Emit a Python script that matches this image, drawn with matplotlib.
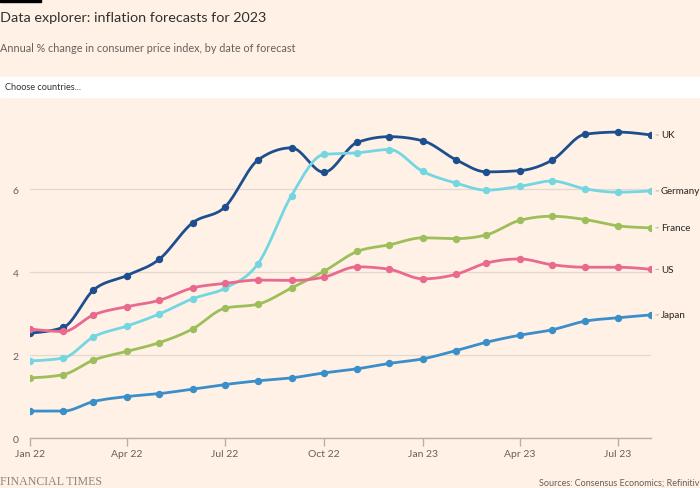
import numpy as np
import pandas as pd
import matplotlib
matplotlib.use('Agg')
import matplotlib.pyplot as plt
import matplotlib.dates as mdates
from matplotlib.patches import Rectangle

# data: forecast for 2023 inflation by month of forecast
months = pd.date_range('2022-01-01', '2023-08-01', freq='MS')
countries = ['UK', 'Germany', 'France', 'US', 'Japan']

uk = [2.53, 2.67, 3.57, 3.92, 4.31, 5.19, 5.57, 6.71, 7.00, 6.41,
      7.13, 7.27, 7.17, 6.71, 6.42, 6.45, 6.70, 7.33, 7.38, 7.31]
germany = [1.86, 1.93, 2.44, 2.70, 2.99, 3.36, 3.61, 4.21, 5.85, 6.84,
           6.88, 6.96, 6.43, 6.15, 5.98, 6.07, 6.20, 6.01, 5.93, 5.96]
france = [1.45, 1.53, 1.88, 2.09, 2.30, 2.63, 3.13, 3.23, 3.62, 4.02,
          4.50, 4.66, 4.83, 4.81, 4.90, 5.25, 5.35, 5.27, 5.12, 5.07]
us = [2.63, 2.57, 2.97, 3.17, 3.32, 3.62, 3.73, 3.81, 3.80, 3.88,
      4.13, 4.07, 3.84, 3.95, 4.22, 4.32, 4.18, 4.12, 4.12, 4.07]
japan = [0.65, 0.65, 0.88, 1.00, 1.07, 1.18, 1.29, 1.38, 1.45, 1.57,
         1.67, 1.80, 1.91, 2.11, 2.31, 2.48, 2.61, 2.82, 2.90, 2.97]

series = [uk, germany, france, us, japan]
colors = ['#1d4f8f', '#73d6e1', '#9dbf5b', '#e9698f', '#3a8ec9']

xtick_dates = pd.to_datetime(['2022-01-01', '2022-04-01', '2022-07-01', '2022-10-01',
                              '2023-01-01', '2023-04-01', '2023-07-01'])
xtick_labels = ['Jan 22', 'Apr 22', 'Jul 22', 'Oct 22', 'Jan 23', 'Apr 23', 'Jul 23']

bg = '#fff1e5'
grey = '#66605c'
dark = '#33302e'


# monotone cubic curve (like d3.curveMonotoneX), only for drawing
def monotone(x, y, n=20):
    x = np.asarray(x, float)
    y = np.asarray(y, float)
    h = np.diff(x)
    s = np.diff(y) / h
    t = np.zeros_like(y)
    for i in range(1, len(y) - 1):
        p = (s[i - 1] * h[i] + s[i] * h[i - 1]) / (h[i - 1] + h[i])
        t[i] = (np.sign(s[i - 1]) + np.sign(s[i])) * min(abs(s[i - 1]), abs(s[i]), 0.5 * abs(p))
    t[0] = (3 * s[0] - t[1]) / 2
    t[-1] = (3 * s[-1] - t[-2]) / 2
    xs, ys = [], []
    for i in range(len(h)):
        u = np.linspace(0, 1, n, endpoint=(i == len(h) - 1))
        h00 = 2 * u**3 - 3 * u**2 + 1
        h10 = u**3 - 2 * u**2 + u
        h01 = -2 * u**3 + 3 * u**2
        h11 = u**3 - u**2
        xs.append(x[i] + u * h[i])
        ys.append(h00 * y[i] + h10 * h[i] * t[i] + h01 * y[i + 1] + h11 * h[i] * t[i + 1])
    return np.concatenate(xs), np.concatenate(ys)


plt.rcParams['font.family'] = ['Lato', 'DejaVu Sans']

fig = plt.figure(figsize=(7, 4.89), dpi=100, facecolor=bg)
ax = fig.add_axes([0.04286, 0.1022, 0.8871, 0.6358])
ax.set_facecolor(bg)

xnum = mdates.date2num(months)
for vals, col, name in zip(series, colors, countries):
    cx, cy = monotone(xnum, vals)
    ax.plot(cx, cy, color=col, lw=2, solid_capstyle='round', zorder=3)
    ax.plot(xnum, vals, 'o', color=col, ms=4.3, zorder=4)
    ax.annotate(name, xy=(xnum[-1], vals[-1]), xytext=(7.3, 0), textcoords='offset points',
                va='center', ha='left', fontsize=7, color=dark, fontweight='medium',
                annotation_clip=False)
    ax.annotate('', xy=(xnum[-1], vals[-1]), xytext=(5.5, 0), textcoords='offset points',
                arrowprops=dict(arrowstyle='-', color='#b0a89f', lw=0.6, shrinkA=0, shrinkB=3.5),
                annotation_clip=False)

ax.set_xlim(xnum[0], xnum[-1])
ax.set_ylim(0, 7.5)
ax.set_yticks([0, 2, 4, 6])
ax.set_yticklabels(['0', '2', '4', '6'])
ax.grid(axis='y', color='#e3d9d0', lw=0.9)
ax.set_axisbelow(True)
ax.set_xticks(mdates.date2num(xtick_dates))
ax.set_xticklabels(xtick_labels)
for side in ['top', 'right', 'left']:
    ax.spines[side].set_visible(False)
ax.spines['bottom'].set_color('#b8afa7')
ax.spines['bottom'].set_linewidth(1)
ax.tick_params(axis='x', colors='#b8afa7', labelcolor=grey, labelsize=7.5, length=6, width=1, pad=2)
ax.tick_params(axis='y', length=0, labelcolor=grey, labelsize=7.5, pad=8)

# header
fig.patches.append(Rectangle((0, 1 - 3 / 489), 41 / 700, 3 / 489, transform=fig.transFigure,
                             color='#000000'))
fig.text(0.0, 1 - 18 / 489, 'Data explorer: inflation forecasts for 2023', fontsize=10.4,
         color=dark, va='center', ha='left')
fig.text(0.0, 1 - 49 / 489, 'Annual % change in consumer price index, by date of forecast',
         fontsize=7.8, color=grey, va='center', ha='left')
fig.patches.append(Rectangle((0, 1 - 98 / 489), 1, 20 / 489, transform=fig.transFigure,
                             color='white'))
fig.text(5 / 700, 1 - 88 / 489, 'Choose countries...', fontsize=6.6, color=dark,
         va='center', ha='left')

# footer
fig.text(0.0, 1 - 482 / 489, 'FINANCIAL TIMES', fontsize=8.6, color='#8a8581',
         family='Liberation Serif', va='center', ha='left')
fig.text(699 / 700, 1 - 483 / 489, 'Sources: Consensus Economics; Refinitiv', fontsize=6.5,
         color=grey, va='center', ha='right')

fig.savefig('out.png', dpi=100, facecolor=bg)
